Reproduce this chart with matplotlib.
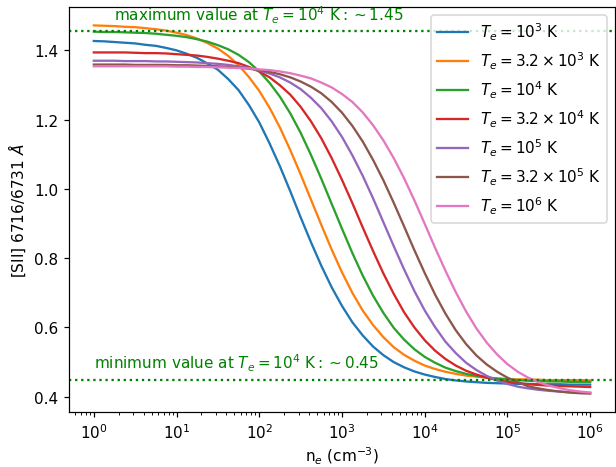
import numpy as np
import matplotlib
matplotlib.use("Agg")
import matplotlib.pyplot as plt

# electron density grid (log10 of n_e in cm^-3)
log_ne = [0.0, 0.125, 0.25, 0.375, 0.5, 0.625, 0.75, 0.875, 1.0, 1.125,
          1.25, 1.375, 1.5, 1.625, 1.75, 1.875, 2.0, 2.125, 2.25, 2.375,
          2.5, 2.625, 2.75, 2.875, 3.0, 3.125, 3.25, 3.375, 3.5, 3.625,
          3.75, 3.875, 4.0, 4.125, 4.25, 4.375, 4.5, 4.625, 4.75, 4.875,
          5.0, 5.125, 5.25, 5.375, 5.5, 5.625, 5.75, 5.875, 6.0]

# [SII] 6716/6731 ratio, one list per temperature
r_1e3 = [1.427, 1.426, 1.424, 1.422, 1.420, 1.416, 1.413, 1.407, 1.400, 1.390,
         1.378, 1.362, 1.344, 1.317, 1.285, 1.242, 1.192, 1.131, 1.065, 0.993,
         0.918, 0.846, 0.778, 0.716, 0.662, 0.615, 0.577, 0.545, 0.520, 0.500,
         0.485, 0.473, 0.464, 0.457, 0.451, 0.447, 0.444, 0.442, 0.440, 0.439,
         0.438, 0.437, 0.437, 0.436, 0.436, 0.436, 0.435, 0.435, 0.435]
r_32e3 = [1.472, 1.471, 1.470, 1.468, 1.467, 1.464, 1.461, 1.457, 1.451, 1.444,
          1.434, 1.421, 1.405, 1.384, 1.357, 1.323, 1.283, 1.234, 1.177, 1.112,
          1.042, 0.969, 0.896, 0.825, 0.759, 0.700, 0.649, 0.607, 0.572, 0.543,
          0.521, 0.504, 0.490, 0.480, 0.472, 0.466, 0.461, 0.458, 0.455, 0.453,
          0.451, 0.450, 0.450, 0.449, 0.448, 0.448, 0.448, 0.448, 0.447]
r_1e4 = [1.454, 1.453, 1.453, 1.452, 1.451, 1.450, 1.448, 1.445, 1.442, 1.438,
         1.432, 1.425, 1.415, 1.403, 1.387, 1.366, 1.339, 1.306, 1.266, 1.218,
         1.162, 1.098, 1.029, 0.957, 0.885, 0.815, 0.750, 0.692, 0.642, 0.599,
         0.565, 0.537, 0.515, 0.498, 0.484, 0.474, 0.466, 0.460, 0.456, 0.452,
         0.450, 0.448, 0.446, 0.445, 0.444, 0.444, 0.443, 0.443, 0.443]
r_32e4 = [1.394, 1.394, 1.394, 1.394, 1.393, 1.392, 1.392, 1.391, 1.389, 1.387,
          1.385, 1.381, 1.376, 1.370, 1.363, 1.352, 1.339, 1.322, 1.299, 1.272,
          1.237, 1.195, 1.146, 1.089, 1.026, 0.959, 0.889, 0.821, 0.756, 0.697,
          0.644, 0.600, 0.563, 0.533, 0.509, 0.490, 0.475, 0.464, 0.455, 0.448,
          0.443, 0.440, 0.436, 0.434, 0.432, 0.431, 0.430, 0.429, 0.428]
r_1e5 = [1.370, 1.370, 1.370, 1.369, 1.369, 1.369, 1.368, 1.368, 1.367, 1.366,
         1.365, 1.363, 1.361, 1.358, 1.354, 1.349, 1.342, 1.333, 1.322, 1.307,
         1.288, 1.263, 1.233, 1.195, 1.150, 1.097, 1.038, 0.973, 0.904, 0.835,
         0.768, 0.705, 0.649, 0.601, 0.559, 0.526, 0.498, 0.477, 0.460, 0.447,
         0.437, 0.429, 0.424, 0.420, 0.417, 0.415, 0.413, 0.412, 0.411]
r_32e5 = [1.359, 1.359, 1.359, 1.359, 1.358, 1.358, 1.358, 1.358, 1.357, 1.357,
          1.356, 1.355, 1.354, 1.352, 1.350, 1.347, 1.343, 1.338, 1.331, 1.322,
          1.310, 1.295, 1.276, 1.251, 1.220, 1.182, 1.137, 1.084, 1.025, 0.960,
          0.892, 0.823, 0.757, 0.695, 0.640, 0.592, 0.552, 0.519, 0.493, 0.472,
          0.455, 0.442, 0.430, 0.424, 0.419, 0.415, 0.412, 0.410, 0.409]
r_1e6 = [1.354, 1.354, 1.354, 1.354, 1.354, 1.354, 1.354, 1.354, 1.353, 1.353,
         1.352, 1.352, 1.351, 1.350, 1.349, 1.348, 1.345, 1.343, 1.339, 1.334,
         1.327, 1.319, 1.307, 1.293, 1.274, 1.251, 1.221, 1.184, 1.140, 1.089,
         1.031, 0.967, 0.899, 0.830, 0.764, 0.702, 0.646, 0.597, 0.556, 0.522,
         0.494, 0.472, 0.455, 0.442, 0.432, 0.425, 0.419, 0.415, 0.412]

labels = [r'$T_e = 10^3$ K', r'$T_e = 3.2 \times 10^3$ K', r'$T_e = 10^4$ K',
          r'$T_e = 3.2 \times 10^4$ K', r'$T_e = 10^5$ K', r'$T_e = 3.2 \times 10^5$ K',
          r'$T_e = 10^6$ K']

max_val = 1.455
min_val = 0.449

ne = 10 ** np.array(log_ne)

# 616x468 px at 110 dpi
fig = plt.figure(figsize=(5.6, 4.2545), dpi=110)
ax = fig.add_axes([0.112, 0.1175, 0.8864, 0.8654])

for ratio, lab in zip([r_1e3, r_32e3, r_1e4, r_32e4, r_1e5, r_32e5, r_1e6], labels):
    ax.plot(ne, ratio, label=lab)

ax.set_xscale('log')
ax.set_xticks([1e0, 1e1, 1e2, 1e3, 1e4, 1e5, 1e6])
ax.axhline(max_val, color='green', linestyle=':')
ax.axhline(min_val, color='green', linestyle=':')
ax.text(1.75, 1.472, r'maximum value at $T_e = 10^4$ K$:\sim 1.45$', color='green',
        va='bottom')
ax.text(1.0, 0.468, r'minimum value at $T_e = 10^4$ K$:\sim 0.45$', color='green',
        va='bottom')

ax.set_xlabel(r'n$_e$ (cm$^{-3}$)', labelpad=2.5)
ax.set_ylabel(r'[SII] 6716/6731 $\AA$')
ax.legend(loc='upper right')

fig.savefig('out.png', dpi=110)
